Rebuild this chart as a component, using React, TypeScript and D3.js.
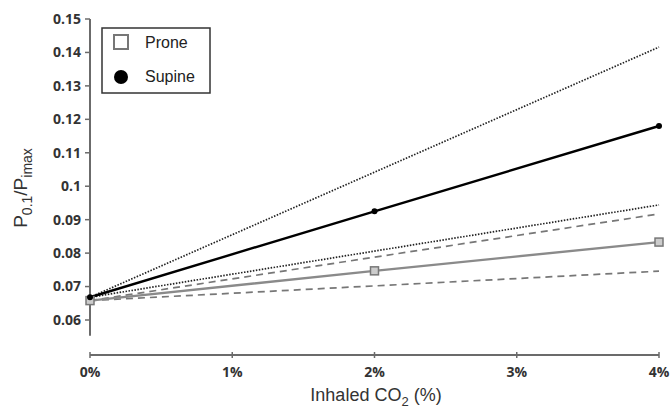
import React from "react";
import * as d3 from "d3";

const xTicks = [0, 1, 2, 3, 4];
const xTickLabels = ["0%", "1%", "2%", "3%", "4%"];
const yTicks = [0.06, 0.07, 0.08, 0.09, 0.1, 0.11, 0.12, 0.13, 0.14, 0.15];
const yTickLabels = ["0.06", "0.07", "0.08", "0.09", "0.1", "0.11", "0.12", "0.13", "0.14", "0.15"];

const co2 = [0, 2, 4];
const supine = [0.0668, 0.0925, 0.118];
const prone = [0.0658, 0.0747, 0.0833];
const supineUpperCI = [0.0668, 0.1042, 0.1416];
const supineLowerCI = [0.0668, 0.0806, 0.0944];
const proneUpperCI = [0.0658, 0.0788, 0.0917];
const proneLowerCI = [0.0658, 0.0702, 0.0746];

export default function App() {
  const W = 671, H = 410;
  const x = d3.scaleLinear().domain([0, 4]).range([90, 659]);
  const y = d3.scaleLinear().domain([0.06, 0.15]).range([320, 19]);
  const line = d3.line<number>().x((_, i) => x(co2[i])).y((d) => y(d));
  const tickFont = "'Open Sans', 'Liberation Sans', sans-serif";
  const font = "'Liberation Sans', Arial, sans-serif";
  const axisColor = "#6b6b6b";
  const xAxisY = 355;

  return (
    <svg width={W} height={H} style={{ position: "absolute", left: 0, top: 0, background: "#fff" }} fontFamily={font}>
      {/* y axis */}
      <line x1={x(0)} x2={x(0)} y1={y(0.15)} y2={y(0.0553)} stroke={axisColor} strokeWidth={2} />
      {yTicks.map((t, i) => (
        <g key={i}>
          <line x1={x(0) - 5} x2={x(0)} y1={y(t)} y2={y(t)} stroke={axisColor} strokeWidth={1.5} />
          <text x={x(0) - 9} y={y(t)} dy="0.35em" textAnchor="end" fontSize={14} fontWeight={700} fill="#333" fontFamily={tickFont}>
            {yTickLabels[i]}
          </text>
        </g>
      ))}
      {/* x axis */}
      <line x1={x(0)} x2={x(4)} y1={xAxisY} y2={xAxisY} stroke={axisColor} strokeWidth={2} />
      {xTicks.map((t, i) => (
        <g key={i}>
          <line x1={x(t)} x2={x(t)} y1={xAxisY - 3} y2={xAxisY + 3} stroke={axisColor} strokeWidth={1.5} />
          <text x={x(t)} y={xAxisY + 22} textAnchor="middle" fontSize={14} fontWeight={700} fill="#333" fontFamily={tickFont}>
            {xTickLabels[i]}
          </text>
        </g>
      ))}
      {/* axis titles */}
      <text x={376} y={401} textAnchor="middle" fontSize={18} fill="#333">
        Inhaled CO<tspan fontSize={13} dy={5}>2</tspan><tspan dy={-5}> (%)</tspan>
      </text>
      <text transform="translate(27,188) rotate(-90)" textAnchor="middle" fontSize={19} fill="#333">
        P<tspan fontSize={14} dy={5}>0.1</tspan><tspan dy={-5}>/P</tspan><tspan fontSize={14} dy={5}>imax</tspan>
      </text>

      {/* CI lines */}
      <path d={line(supineUpperCI) || ""} fill="none" stroke="#222" strokeWidth={1.7} strokeDasharray="1.5,1.5" />
      <path d={line(supineLowerCI) || ""} fill="none" stroke="#222" strokeWidth={1.7} strokeDasharray="1.5,1.5" />
      <path d={line(proneUpperCI) || ""} fill="none" stroke="#777" strokeWidth={1.7} strokeDasharray="7,5" />
      <path d={line(proneLowerCI) || ""} fill="none" stroke="#777" strokeWidth={1.7} strokeDasharray="7,5" />

      {/* main lines */}
      <path d={line(prone) || ""} fill="none" stroke="#8a8a8a" strokeWidth={2.4} />
      <path d={line(supine) || ""} fill="none" stroke="#000" strokeWidth={2.4} />
      {prone.map((v, i) => (
        <rect key={i} x={x(co2[i]) - 4} y={y(v) - 4} width={8} height={8} fill="#ccc" stroke="#777" strokeWidth={1.5} />
      ))}
      {supine.map((v, i) => (
        <circle key={i} cx={x(co2[i])} cy={y(v)} r={3} fill="#000" />
      ))}

      {/* legend */}
      <rect x={102} y={28} width={108} height={65} fill="#fff" stroke="#333" strokeWidth={1.5} />
      <rect x={114} y={35} width={14} height={14} fill="#fff" stroke="#777" strokeWidth={2} />
      <text x={145} y={48} fontSize={16} fill="#222">Prone</text>
      <circle cx={121} cy={77} r={7} fill="#000" />
      <text x={145} y={82} fontSize={16} fill="#222">Supine</text>
    </svg>
  );
}
